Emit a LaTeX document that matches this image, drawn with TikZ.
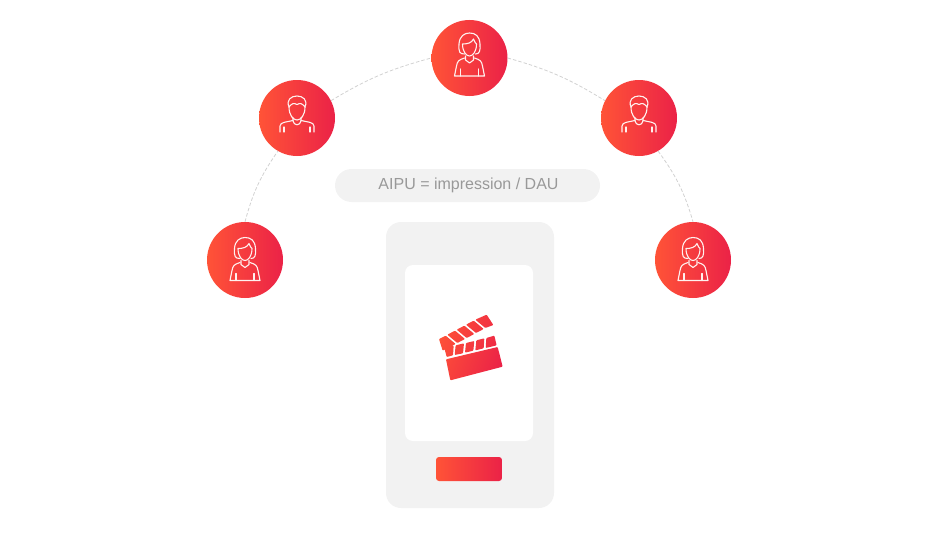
\documentclass[tikz,border=0pt]{standalone}
\usepackage{fontspec}
\setmainfont{Liberation Sans}
\definecolor{redL}{HTML}{FF5337}
\definecolor{redR}{HTML}{EB2247}
\definecolor{panel}{HTML}{F2F2F2}
\tikzset{
  person/.style={circle,minimum size=76pt,inner sep=0pt,left color=redL,right color=redR},
  link/.style={draw=black!18,line width=0.8pt,dash pattern=on 3.5pt off 2pt},
  panelbox/.style={fill=panel,inner sep=0pt},
  iconline/.style={draw=white!92!redL,line width=1.1pt,line cap=round,line join=round},
  woman/.pic={
    % hair
    \draw[iconline] (-5,-4) .. controls (-10,-4) and (-11,-6) .. (-10.5,-14) .. controls (-10,-22) and (-5,-25) .. (0,-25) .. controls (6,-25) and (10,-22) .. (10.5,-14) .. controls (11,-7) and (10,-4) .. (6,-4);
    % face
    \draw[iconline] (-7,-14) .. controls (-2,-14) and (2,-15) .. (4,-19) .. controls (5,-16) and (6,-15) .. (7,-14) .. controls (7,-6) and (3,-2) .. (0,-2) .. controls (-3,-2) and (-7,-6) .. (-7,-14);
    % collar and body
    \draw[iconline] (-4,-2) -- (-4,2) -- (0,5) -- (4,2) -- (4,-2);
    \draw[iconline] (-5,0) .. controls (-11,2) and (-12,3) .. (-13,8) -- (-15,18) -- (15,18) -- (13,8) .. controls (12,3) and (11,2) .. (5,0);
    \draw[iconline] (-9,11) -- (-9,18) (9,11) -- (9,18);
  },
  man/.pic={
    % hair
    \draw[iconline] (-8,-11) .. controls (-11,-18) and (-6,-22) .. (0,-22) .. controls (6,-22) and (11,-18) .. (8,-11) .. controls (5,-15) and (3,-15) .. (0,-13.5) .. controls (-3,-15) and (-5,-15) .. (-8,-11);
    % face
    \draw[iconline] (-8,-11) .. controls (-8,-3) and (-4,2) .. (0,2) .. controls (4,2) and (8,-3) .. (8,-11);
    % neck and body
    \draw[iconline] (-4,0) -- (-4,3) .. controls (-3,8) and (3,8) .. (4,3) -- (4,0);
    \draw[iconline] (-17,14) -- (-17,8) .. controls (-17,4) and (-10,4) .. (-4,2.5);
    \draw[iconline] (17,14) -- (17,8) .. controls (17,4) and (10,4) .. (4,2.5);
    \draw[iconline] (-13,9) -- (-13,14) (13,9) -- (13,14);
  }
}
\begin{document}
\begin{tikzpicture}[x=1pt,y=-1pt]
  \useasboundingbox (0,0) rectangle (939,535);

  % 吹き出し
  \node (pill) at (467.5,185.5) [panelbox,rounded corners=16.5pt,minimum width=265pt,minimum height=33pt] {};
  \node (formula) at (468.5,185.5) [inner sep=0pt] {\fontsize{16pt}{18pt}\selectfont\color{black!40}AIPU = impression / DAU};

  % phone
  \node (phone) at (470,365) [panelbox,rounded corners=15pt,minimum width=168pt,minimum height=286pt] {};
  \node (screen) at (469,353) [fill=white,inner sep=0pt,rounded corners=8pt,minimum width=128pt,minimum height=176pt] {};
  \node (button) at (469,469) [inner sep=0pt,rounded corners=3pt,minimum width=66pt,minimum height=24pt,left color=redL,right color=redR] {};

  % clapper
  \begin{scope}[shift={(425,305)},x=0.3333pt,y=-0.3333pt]
    \clip[rounded corners=0.8pt]
      (42,102) -- (62,92) -- (92,117) -- (53,137) -- cycle
      (67,89) -- (90,77) -- (120,102) -- (97,114) -- cycle
      (95,74) -- (118,62) -- (148,87) -- (125,99) -- cycle
      (123,59) -- (146,47) -- (176,72) -- (153,84) -- cycle
      (151,44) -- (185,29) -- (205,60) -- (181,69) -- cycle
      (58,129) -- (86,122) -- (84,151) -- (65,156) -- cycle
      (92,121) -- (117,115) -- (114,145) -- (89,150) -- cycle
      (123,114) -- (148,108) -- (145,137) -- (120,143) -- cycle
      (154,106) -- (178,100) -- (176,130) -- (151,136) -- cycle
      (184,99) -- (208,92) -- (215,121) -- (182,129) -- cycle
      (63,163) -- (218,126) -- (233,185) -- (76,226) -- cycle;
    \shade[left color=redL,right color=redR,shading angle=70] (30,20) rectangle (240,235);
  \end{scope}

  % 人物
  \foreach \name/\x/\y/\dy/\kind in {womanA/245/260/2.5/woman,manA/297/118/0/man,womanB/469.5/58/0/woman,manB/639/118/0/man,womanC/693/260/2.5/woman} {
    \node (\name) at (\x,\y) [person] {};
    \pic at (\x,\y+\dy) {\kind};
  }

  % 接続線
  \draw[link] (womanA.90) to[bend left=10] (manA.240);
  \draw[link] (manA.27) to[bend left=8] (womanB.180);
  \draw[link] (womanB.0) to[bend left=8] (manB.153);
  \draw[link] (manB.300) to[bend left=10] (womanC.90);
\end{tikzpicture}
\end{document}
